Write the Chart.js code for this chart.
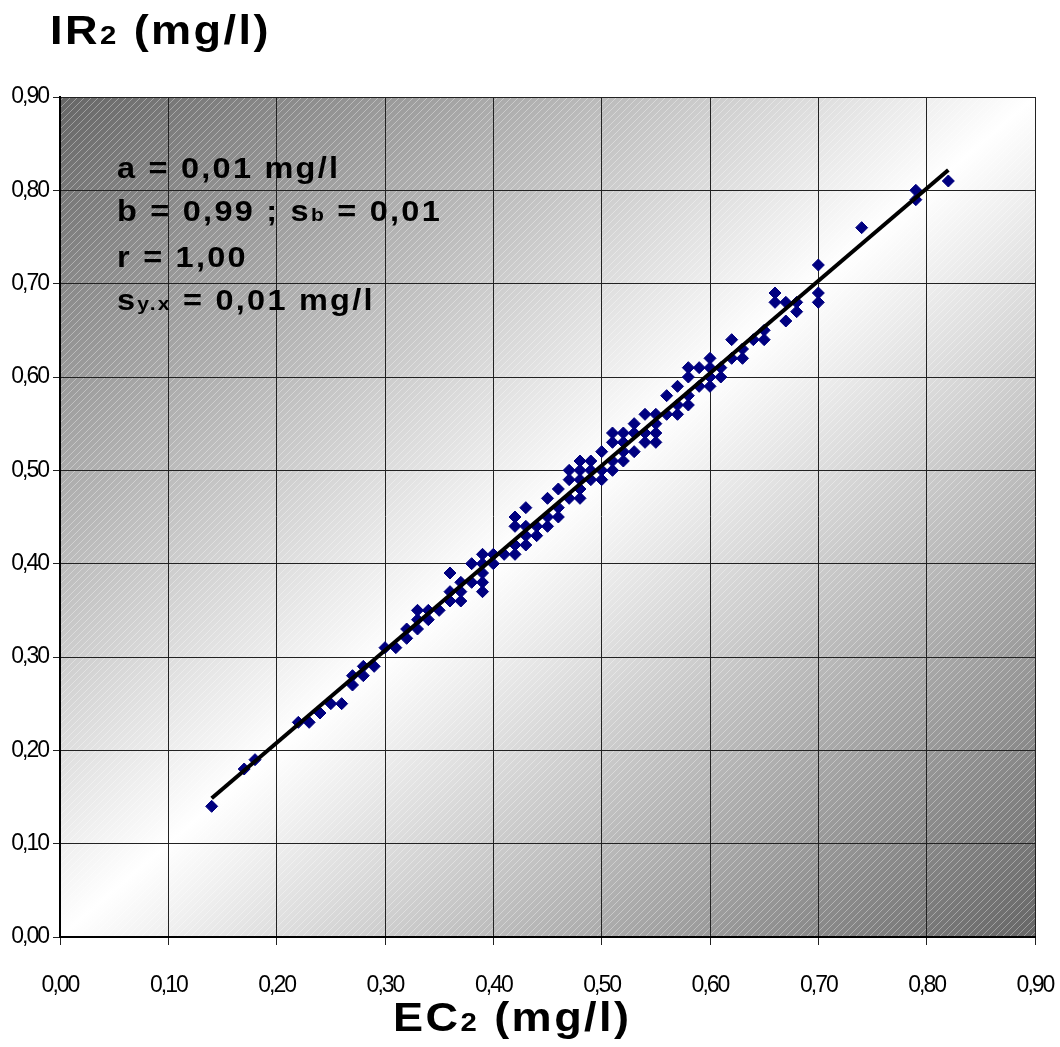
<!DOCTYPE html>
<html>
<head>
<meta charset="utf-8">
<title>IR2 vs EC2</title>
<script src="https://cdn.jsdelivr.net/npm/chart.js@4.4.1/dist/chart.umd.min.js"></script>
<style>
  html, body { margin: 0; padding: 0; background: #fff; }
  #wrap { position: relative; width: 1060px; height: 1047px; }
  #wrap canvas { position: absolute; left: 0; top: 0; }
  .lbl {
    position: absolute;
    z-index: 2;
    font-family: "Liberation Sans", Arial, sans-serif;
    font-weight: bold;
    color: #000;
    white-space: nowrap;
    transform-origin: 0 0;
  }
  /* the original text is a bit wide and loosely spaced */
  .axis-title { font-size: 41px; line-height: 41px; letter-spacing: 2.2px; transform: scaleX(1.1); }
  .sm { font-size: 0.65em; }
  #yTitle { left: 50px; top: 10px; }
  #xTitle { left: 393px; top: 997px; }
  #stats { left: 117px; top: 147px; font-size: 29px; line-height: 43px; letter-spacing: 2px; transform: scaleX(1.12); }
</style>
</head>
<body>
<div id="wrap">
  <canvas id="scatterChart" width="1060" height="1047"></canvas>
  <div id="yTitle" class="lbl axis-title">IR<span class="sm">2</span> (mg/l)</div>
  <div id="xTitle" class="lbl axis-title">EC<span class="sm">2</span> (mg/l)</div>
  <div id="stats" class="lbl">
    <div>a = 0,01 mg/l</div>
    <div>b = 0,99 ; s<span class="sm">b</span> = 0,01</div>
    <div>r = 1,00</div>
    <div>s<span class="sm">y.x</span> = 0,01 mg/l</div>
  </div>
</div>
<script>
// EC2 (x) and IR2 (y) pairs
const ecValues = [
  0.14, 0.17, 0.18, 0.22, 0.23, 0.24, 0.25, 0.26, 0.27, 0.27,
  0.28, 0.28, 0.29, 0.30, 0.31, 0.32, 0.32, 0.33, 0.33, 0.33,
  0.34, 0.34, 0.35, 0.36, 0.36, 0.36, 0.37, 0.37, 0.37, 0.38,
  0.38, 0.39, 0.39, 0.39, 0.39, 0.39, 0.40, 0.40, 0.41, 0.42,
  0.42, 0.42, 0.42, 0.43, 0.43, 0.43, 0.43, 0.44, 0.44, 0.45,
  0.45, 0.45, 0.46, 0.46, 0.46, 0.47, 0.47, 0.47, 0.48, 0.48,
  0.48, 0.48, 0.48, 0.49, 0.49, 0.49, 0.50, 0.50, 0.50, 0.51,
  0.51, 0.51, 0.51, 0.52, 0.52, 0.52, 0.52, 0.53, 0.53, 0.53,
  0.54, 0.54, 0.54, 0.55, 0.55, 0.55, 0.55, 0.56, 0.56, 0.57,
  0.57, 0.57, 0.58, 0.58, 0.58, 0.58, 0.59, 0.59, 0.60, 0.60,
  0.60, 0.60, 0.61, 0.61, 0.62, 0.62, 0.63, 0.63, 0.64, 0.65,
  0.65, 0.66, 0.66, 0.67, 0.67, 0.68, 0.68, 0.70, 0.70, 0.70,
  0.74, 0.79, 0.79, 0.82
];
const irValues = [
  0.14, 0.18, 0.19, 0.23, 0.23, 0.24, 0.25, 0.25, 0.28, 0.27,
  0.29, 0.28, 0.29, 0.31, 0.31, 0.33, 0.32, 0.35, 0.34, 0.33,
  0.35, 0.34, 0.35, 0.39, 0.37, 0.36, 0.38, 0.37, 0.36, 0.40,
  0.38, 0.41, 0.40, 0.39, 0.38, 0.37, 0.41, 0.40, 0.41, 0.45,
  0.44, 0.42, 0.41, 0.46, 0.44, 0.42, 0.43, 0.44, 0.43, 0.47,
  0.45, 0.44, 0.48, 0.46, 0.45, 0.50, 0.49, 0.47, 0.51, 0.50,
  0.49, 0.48, 0.47, 0.51, 0.50, 0.49, 0.52, 0.50, 0.49, 0.54,
  0.53, 0.51, 0.50, 0.54, 0.53, 0.52, 0.51, 0.55, 0.54, 0.52,
  0.56, 0.54, 0.53, 0.56, 0.55, 0.54, 0.53, 0.58, 0.56, 0.59,
  0.57, 0.56, 0.61, 0.60, 0.58, 0.57, 0.61, 0.59, 0.62, 0.61,
  0.60, 0.59, 0.61, 0.60, 0.64, 0.62, 0.63, 0.62, 0.64, 0.65,
  0.64, 0.69, 0.68, 0.68, 0.66, 0.68, 0.67, 0.72, 0.69, 0.68,
  0.76, 0.80, 0.79, 0.81
];

const xTicks = [0.0, 0.1, 0.2, 0.3, 0.4, 0.5, 0.6, 0.7, 0.8, 0.9];
const yTicks = [0.0, 0.1, 0.2, 0.3, 0.4, 0.5, 0.6, 0.7, 0.8, 0.9];

// regression y = a + b*x (from the stats box)
const fitA = 0.01;
const fitB = 0.99;

(function () {
  "use strict";

  const tickFont = { family: "'Liberation Sans', Arial, sans-serif", size: 23 };
  const fmt = (v) => v.toFixed(2).replace(".", ",");

  // dark corners, light anti-diagonal band, thin white "/" hatching
  const hatch = document.createElement("canvas");
  hatch.width = hatch.height = 7;
  const hc = hatch.getContext("2d");
  hc.strokeStyle = "rgba(255,255,255,0.35)";
  hc.lineWidth = 1;
  hc.beginPath();
  hc.moveTo(0, 7); hc.lineTo(7, 0);
  hc.moveTo(-1, 1); hc.lineTo(1, -1);
  hc.moveTo(6, 8); hc.lineTo(8, 6);
  hc.stroke();

  const plotBackground = {
    id: "plotBackground",
    beforeDraw(chart) {
      const { ctx, chartArea: a } = chart;
      const w = a.right - a.left;
      const h = a.bottom - a.top;
      const cx = a.left + w / 2;
      const cy = a.top + h / 2;
      const len = Math.hypot(w, h);
      const ux = h / len, uy = w / len;
      const d = (w * h) / len;
      const g = ctx.createLinearGradient(cx - ux * d, cy - uy * d, cx + ux * d, cy + uy * d);
      g.addColorStop(0, "#666666");
      g.addColorStop(0.5, "#ffffff");
      g.addColorStop(1, "#666666");
      ctx.save();
      ctx.fillStyle = g;
      ctx.fillRect(a.left, a.top, w, h);
      ctx.fillStyle = ctx.createPattern(hatch, "repeat");
      ctx.fillRect(a.left, a.top, w, h);
      ctx.restore();
      // squeeze tick labels like the narrow face of the original
      ctx.letterSpacing = "-2px";
    },
  };

  const noEdgePadding = (s) => {
    s.paddingLeft = s.paddingRight = s.paddingTop = s.paddingBottom = 0;
  };

  const points = ecValues.map((x, i) => ({ x, y: irValues[i] }));
  const x0 = Math.min(...ecValues);
  const x1 = Math.max(...ecValues);
  const fitLine = [
    { x: x0, y: fitA + fitB * x0 },
    { x: x1, y: fitA + fitB * x1 },
  ];

  new Chart(document.getElementById("scatterChart"), {
    type: "scatter",
    data: {
      datasets: [
        {
          type: "line",
          data: fitLine,
          borderColor: "#000",
          borderWidth: 4,
          pointRadius: 0,
          fill: false,
          order: 0,
        },
        {
          data: points,
          pointStyle: "rectRot",
          pointRadius: 6,
          backgroundColor: "#000080",
          borderColor: "#000080",
          borderWidth: 1,
          order: 1,
        },
      ],
    },
    options: {
      responsive: false,
      animation: false,
      layout: { padding: { top: 97, right: 25, left: 0, bottom: 0 } },
      plugins: {
        legend: { display: false },
        tooltip: { enabled: false },
      },
      scales: {
        x: {
          type: "linear",
          min: 0,
          max: 0.9,
          afterBuildTicks: (s) => { s.ticks = xTicks.map((v) => ({ value: v })); },
          afterFit: (s) => { s.height = 110; noEdgePadding(s); },
          ticks: { callback: fmt, font: tickFont, color: "#000", padding: 27, maxRotation: 0, autoSkip: false },
          grid: { color: "#222", lineWidth: 1, tickLength: 8 },
          border: { color: "#000", width: 2 },
        },
        y: {
          type: "linear",
          min: 0,
          max: 0.9,
          afterBuildTicks: (s) => { s.ticks = yTicks.map((v) => ({ value: v })); },
          afterFit: (s) => { s.width = 60; noEdgePadding(s); },
          ticks: { callback: fmt, font: tickFont, color: "#000", padding: 5, autoSkip: false },
          grid: { color: "#222", lineWidth: 1, tickLength: 7 },
          border: { color: "#000", width: 2 },
        },
      },
    },
    plugins: [plotBackground],
  });
})();
</script>
</body>
</html>
